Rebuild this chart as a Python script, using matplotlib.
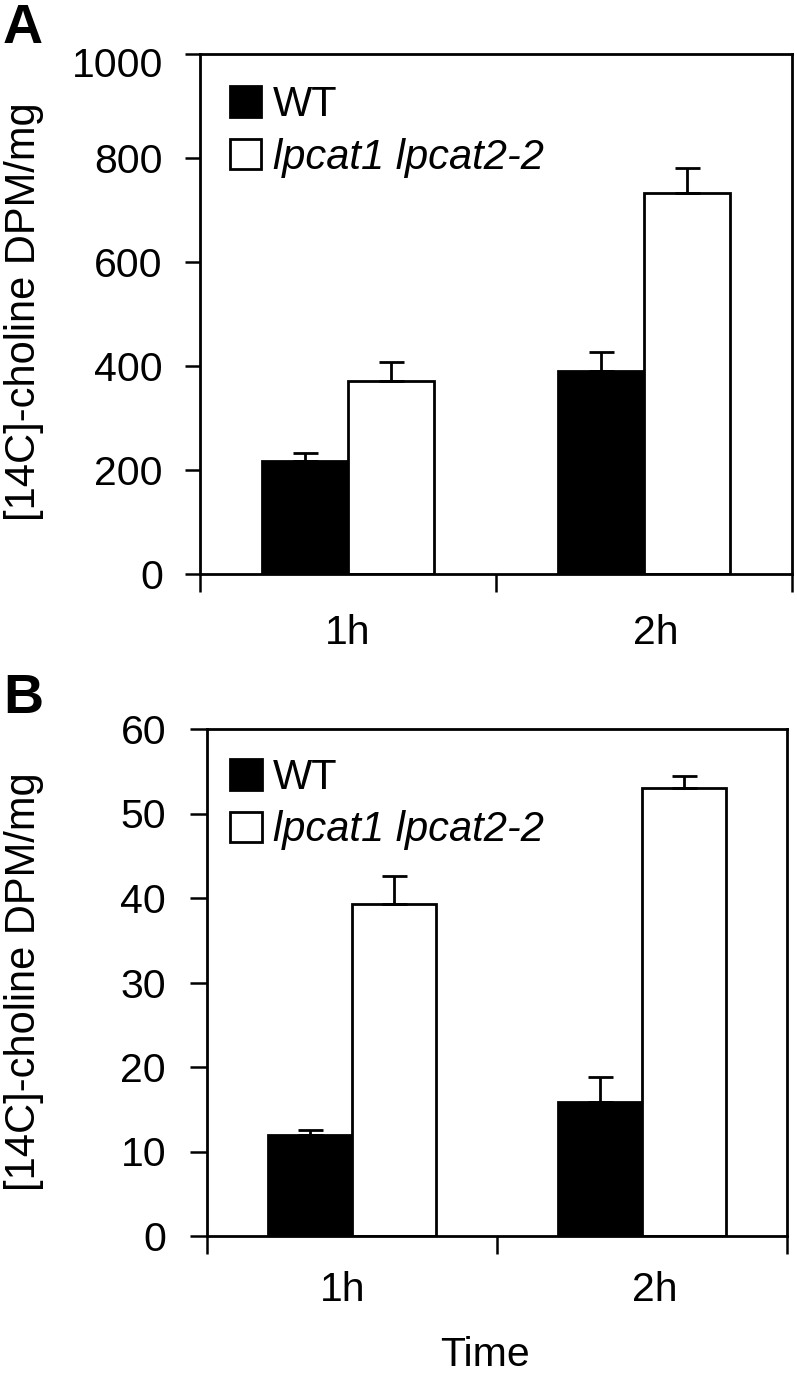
import numpy as np
import matplotlib
matplotlib.use("Agg")
import matplotlib.pyplot as plt
from matplotlib.transforms import ScaledTranslation

plt.rcParams['font.family'] = ['Liberation Sans', 'DejaVu Sans']

# data
times = ["1h", "2h"]
series = ["WT", "lpcat1 lpcat2-2"]

wt_a = [217, 391]
wt_a_err = [16, 35]
mut_a = [372, 732]
mut_a_err = [36, 48]

wt_b = [11.9, 15.9]
wt_b_err = [0.6, 2.9]
mut_b = [39.3, 53.0]
mut_b_err = [3.3, 1.4]

yticks_a = [0, 200, 400, 600, 800, 1000]
yticks_b = [0, 10, 20, 30, 40, 50, 60]
ylabel = "[14C]-choline DPM/mg"

W, H = 797, 1374
fig = plt.figure(figsize=(W / 100, H / 100), dpi=100)


def px_rect(l, t, r, b):
    return [l / W, 1 - b / H, (r - l) / W, (b - t) / H]


def shift(label, dx, dy):
    label.set_transform(label.get_transform() +
                        ScaledTranslation(dx / 100, -dy / 100, fig.dpi_scale_trans))


def panel(rect, wt, wt_err, mut, mut_err, yticks, ytick_len, ypad, xpad, leg_xy):
    ax = fig.add_axes(rect)
    x = np.arange(len(times))
    w = 0.29
    b1 = ax.bar(x - w / 2, wt, w, color='black', edgecolor='black', lw=2,
                label=series[0], zorder=2)
    b2 = ax.bar(x + w / 2, mut, w, color='white', edgecolor='black', lw=2,
                label=series[1], zorder=2)
    ax.errorbar(x - w / 2, wt, yerr=[np.zeros(len(wt)), wt_err], fmt='none',
                ecolor='black', elinewidth=2, capsize=9, capthick=2, zorder=3)
    ax.errorbar(x + w / 2, mut, yerr=[np.zeros(len(mut)), mut_err], fmt='none',
                ecolor='black', elinewidth=2, capsize=9, capthick=2, zorder=3)

    ax.set_xlim(-0.5, 1.5)
    ax.set_ylim(0, yticks[-1])
    ax.set_yticks(yticks)
    ax.set_xticks([-0.5, 0.5, 1.5])
    ax.set_xticklabels([])
    ax.set_xticks(x, minor=True)
    ax.set_xticklabels(times, minor=True)

    for s in ax.spines.values():
        s.set_linewidth(2)
    ax.tick_params(axis='y', length=ytick_len, width=1.8, direction='out',
                   labelsize=29.5, pad=ypad)
    ax.tick_params(axis='x', which='major', length=13, width=1.8, direction='out')
    ax.tick_params(axis='x', which='minor', length=0, labelsize=29.5, pad=xpad)

    leg = ax.legend(handles=[b1, b2], loc='upper left', bbox_to_anchor=leg_xy,
                    frameon=False, fontsize=30, handlelength=0.76,
                    handleheight=0.75, handletextpad=0.27, labelspacing=0.3,
                    borderpad=0, borderaxespad=0)
    leg.get_texts()[1].set_fontstyle('italic')
    return ax


ax_a = panel(px_rect(200, 54, 792, 574), wt_a, wt_a_err, mut_a, mut_a_err,
             yticks_a, 10.8, 16, 28.5, (0.05, 0.94))
ax_b = panel(px_rect(207, 729, 787, 1236), wt_b, wt_b_err, mut_b, mut_b_err,
             yticks_b, 12, 17.5, 25.5, (0.04, 0.943))

# small label offsets as in the original
shift(ax_a.get_yticklabels()[-1], 0, 8)
la = ax_a.get_xticklabels(minor=True)
shift(la[1], 12, 0)
lb = ax_b.get_xticklabels(minor=True)
shift(lb[0], -9, 0)
shift(lb[1], 13, 0)

fig.text(24 / W, 1 - 312 / H, ylabel, rotation=90, ha='center', va='center', fontsize=30)
fig.text(24 / W, 1 - 982 / H, ylabel, rotation=90, ha='center', va='center', fontsize=30)

fig.text(3 / W, 1 - 43 / H, "A", fontsize=40, fontweight='bold', va='baseline')
fig.text(3 / W, 1 - 713 / H, "B", fontsize=40, fontweight='bold', va='baseline')

fig.text(485 / W, 1 - 1366 / H, "Time", fontsize=29.5, ha='center', va='baseline')

fig.savefig("out.png", dpi=100)
